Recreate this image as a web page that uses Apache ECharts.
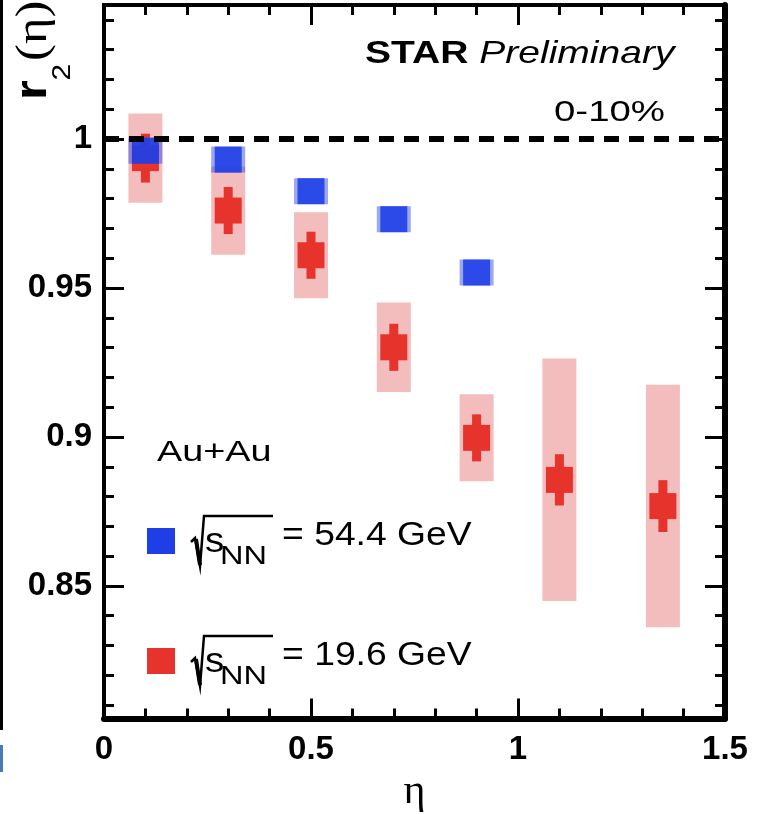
<!DOCTYPE html>
<html>
<head>
<meta charset="utf-8">
<script src="https://cdn.jsdelivr.net/npm/echarts@6/dist/echarts.min.js"></script>
<style>
  html, body { margin: 0; padding: 0; background: #fff; }
  #chart { width: 762px; height: 814px; }
</style>
</head>
<body>
<div id="chart"></div>
<script>
// r2(eta), Au+Au 0-10%
const etaRed = [0.1, 0.3, 0.5, 0.7, 0.9, 1.1, 1.35];
const r2Red = [0.9936, 0.9760, 0.9610, 0.9301, 0.8997, 0.8856, 0.8768];
const statRed = [0.0082, 0.0079, 0.0079, 0.0079, 0.0079, 0.0086, 0.0087];
const sysRed = [0.0150, 0.0148, 0.0144, 0.0150, 0.0146, 0.0407, 0.0407];

const etaBlue = [0.1, 0.3, 0.5, 0.7, 0.9];
const r2Blue = [0.9961, 0.9931, 0.9825, 0.9731, 0.9552];

const refLine = [[0, 1], [1.5, 1]];

const yMajor = [0.85, 0.9, 0.95, 1];
const yMinor = [];
for (let k = 81; k <= 104; k++) if (k % 5 !== 0) yMinor.push(k / 100);

const yMin = 0.8055, yMax = 1.045;
const sans = 'Liberation Sans, Arial, Helvetica, sans-serif';
const serif = 'Liberation Serif, Times New Roman, serif';

const RED = '#e6332b', PINK = '#f4bdbd', BLUE = '#1f3fe6';
const tickStyle = { color: '#000', width: 3 };

const chart = echarts.init(document.getElementById('chart'));

function yAxisOf(pos, major) {
  return {
    type: 'value', min: yMin, max: yMax, position: pos,
    splitLine: { show: false },
    axisLine: { show: pos === 'right' && major, lineStyle: { color: '#000', width: 6 } },
    axisTick: { show: true, inside: true, length: major ? 20 : 10,
      customValues: major ? yMajor : yMinor, lineStyle: tickStyle },
    axisLabel: (pos === 'left' && major) ? {
      customValues: yMajor, margin: 12, fontSize: 33, fontWeight: 'bold',
      color: '#000', fontFamily: sans
    } : { show: false }
  };
}

function xAxisOf(pos) {
  return {
    type: 'value', min: 0, max: 1.5, interval: 0.5, position: pos,
    splitLine: { show: false },
    axisLine: { show: pos === 'bottom', onZero: false, lineStyle: { color: '#000', width: 6 } },
    axisTick: { show: true, inside: true, length: 20, lineStyle: tickStyle },
    minorTick: { show: true, splitNumber: 5, length: 10, lineStyle: tickStyle },
    axisLabel: pos === 'bottom' ? {
      margin: 15, fontSize: 33, fontWeight: 'bold', color: '#000', fontFamily: sans
    } : { show: false },
    name: pos === 'bottom' ? 'η' : '',
    nameLocation: 'middle', nameGap: 45,
    nameTextStyle: { fontSize: 42, fontFamily: serif, color: '#000' }
  };
}

function boxItem(params, api) {
  const x = api.value(0), y = api.value(1), e = api.value(2);
  const top = api.coord([x, y + e]), bot = api.coord([x, y - e]);
  const w = 34;
  return { type: 'rect', shape: { x: top[0] - w / 2, y: top[1], width: w, height: bot[1] - top[1] },
    style: { fill: PINK } };
}

function redItem(params, api) {
  const x = api.value(0), y = api.value(1), e = api.value(2);
  const c = api.coord([x, y]);
  const top = api.coord([x, y + e]), bot = api.coord([x, y - e]);
  return { type: 'group', children: [
    { type: 'rect', shape: { x: c[0] - 4.5, y: top[1], width: 9, height: bot[1] - top[1] }, style: { fill: RED } },
    { type: 'rect', shape: { x: c[0] - 13.5, y: c[1] - 13, width: 27, height: 26 }, style: { fill: RED } }
  ] };
}

function blueItem(params, api) {
  const c = api.coord([api.value(0), api.value(1)]);
  return { type: 'group', children: [
    { type: 'rect', shape: { x: c[0] - 17, y: c[1] - 13, width: 34, height: 26 }, style: { fill: BLUE, opacity: 0.45 } },
    { type: 'rect', shape: { x: c[0] - 13.5, y: c[1] - 13, width: 27, height: 26 }, style: { fill: BLUE, opacity: 0.9 } }
  ] };
}

function legendEntry(dy, color, label) {
  return [
    { type: 'rect', shape: { x: 147, y: 528 + dy, width: 28, height: 26 }, style: { fill: color } },
    { type: 'polyline', shape: { points: [[191, 542 + dy], [195, 538 + dy], [200, 566 + dy], [204, 516 + dy], [273, 516 + dy]] },
      style: { stroke: '#000', lineWidth: 2.5, fill: null } },
    { type: 'line', shape: { x1: 196, y1: 539 + dy, x2: 200, y2: 565 + dy }, style: { stroke: '#000', lineWidth: 4 } },
    { type: 'text', x: 205, y: 542 + dy, scaleX: 1.1, style: { text: 's', font: '35px ' + sans, fill: '#000', verticalAlign: 'middle' } },
    { type: 'text', x: 220, y: 557 + dy, scaleX: 1.3, style: { text: 'NN', font: '25px ' + sans, fill: '#000', verticalAlign: 'middle' } },
    { type: 'text', x: 282, y: 535.5 + dy, scaleX: 1.13, style: { text: label, font: '33px ' + sans, fill: '#000', verticalAlign: 'middle' } }
  ];
}

const option = {
  animation: false,
  backgroundColor: '#fff',
  grid: { left: 104, right: 37, top: 5, bottom: 95.5, show: true, borderColor: '#000', borderWidth: 4,
    outerBoundsMode: 'none' },
  xAxis: [xAxisOf('bottom'), xAxisOf('top')],
  yAxis: [yAxisOf('left', true), yAxisOf('left', false), yAxisOf('right', true), yAxisOf('right', false)],
  series: [
    { type: 'custom', name: 'sys 19.6', z: 1, renderItem: boxItem,
      data: etaRed.map((x, i) => [x, r2Red[i], sysRed[i]]) },
    { type: 'custom', name: '19.6 GeV', z: 3, renderItem: redItem,
      data: etaRed.map((x, i) => [x, r2Red[i], statRed[i]]) },
    { type: 'custom', name: '54.4 GeV', z: 4, renderItem: blueItem,
      data: etaBlue.map((x, i) => [x, r2Blue[i]]) },
    { type: 'line', name: 'ref', z: 5, silent: true, symbol: 'none', data: refLine,
      lineStyle: { color: '#000', width: 6, type: [15, 10] } }
  ],
  graphic: [
    { type: 'line', shape: { x1: 1.5, y1: 0, x2: 1.5, y2: 730 }, style: { stroke: '#000', lineWidth: 3 } },
    { type: 'line', shape: { x1: 1.5, y1: 745, x2: 1.5, y2: 772 }, style: { stroke: '#4a7ab5', lineWidth: 3 } },
    { type: 'group', x: 34, y: 100, rotation: Math.PI / 2, scaleX: 1.15, children: [
      { type: 'text', x: 0, y: 0, style: { text: 'r', font: 'bold 44px ' + sans, fill: '#000', verticalAlign: 'middle' } },
      { type: 'text', x: 17, y: 29, style: { text: '2', font: '26px ' + sans, fill: '#000', verticalAlign: 'middle' } },
      { type: 'text', x: 34, y: 0, style: { text: '(η)', font: '44px ' + serif, fill: '#000', verticalAlign: 'middle' } }
    ] },
    { type: 'text', x: 365, y: 54, scaleX: 1.22, style: {
      text: '{b|STAR }{i|Preliminary}', verticalAlign: 'middle', fill: '#000',
      rich: { b: { font: 'bold 32px ' + sans }, i: { font: 'italic 32px ' + sans } } } },
    { type: 'text', x: 665, y: 112.5, scaleX: 1.28, style: { text: '0-10%', font: '30px ' + sans, fill: '#000',
      align: 'right', verticalAlign: 'middle' } },
    { type: 'text', x: 157, y: 452.5, scaleX: 1.26, style: { text: 'Au+Au', font: '30px ' + sans, fill: '#000',
      verticalAlign: 'middle' } }
  ].concat(legendEntry(0, BLUE, '= 54.4 GeV'), legendEntry(120, RED, '= 19.6 GeV'))
};

chart.setOption(option);
window.addEventListener('resize', () => chart.resize());
</script>
</body>
</html>
